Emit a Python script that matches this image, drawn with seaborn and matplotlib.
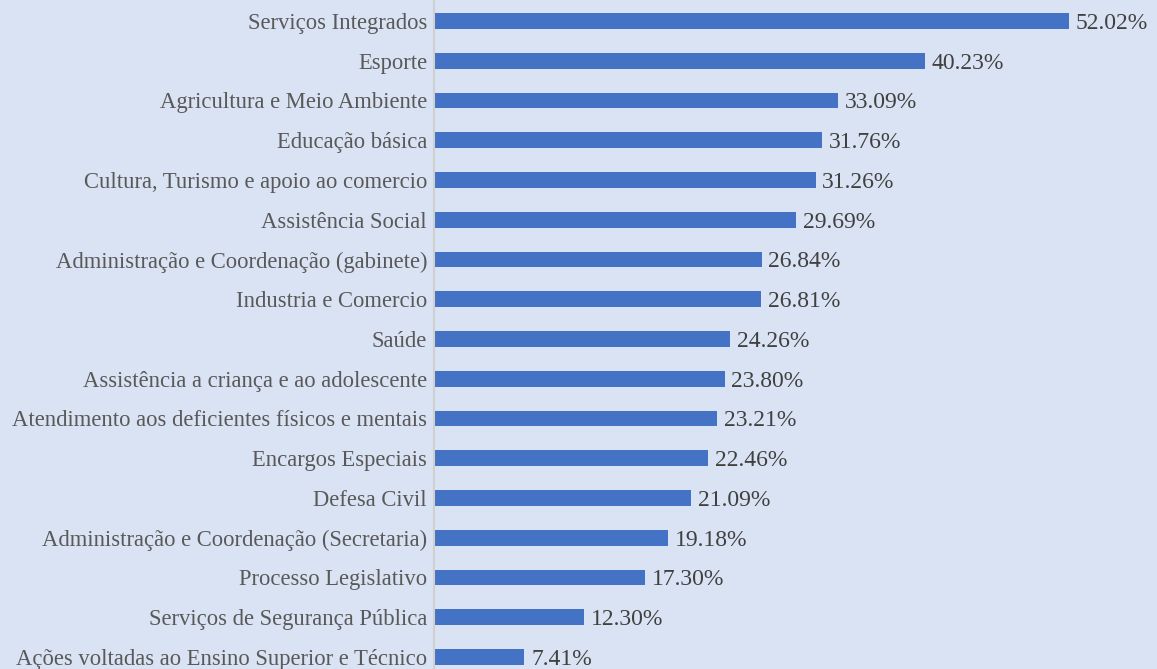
import matplotlib
matplotlib.use("Agg")
import matplotlib.pyplot as plt
import seaborn as sns
import pandas as pd

categories = [
    "Serviços Integrados",
    "Esporte",
    "Agricultura e Meio Ambiente",
    "Educação básica",
    "Cultura, Turismo e apoio ao comercio",
    "Assistência Social",
    "Administração e Coordenação (gabinete)",
    "Industria e Comercio",
    "Saúde",
    "Assistência a criança e ao adolescente",
    "Atendimento aos deficientes físicos e mentais",
    "Encargos Especiais",
    "Defesa Civil",
    "Administração e Coordenação (Secretaria)",
    "Processo Legislativo",
    "Serviços de Segurança Pública",
    "Ações voltadas ao Ensino Superior e Técnico",
]
values = [52.02, 40.23, 33.09, 31.76, 31.26, 29.69, 26.84, 26.81, 24.26,
          23.80, 23.21, 22.46, 21.09, 19.18, 17.30, 12.30, 7.41]

bg = "#DAE3F3"
bar_color = "#4472C4"

sns.set_theme(style="white")
plt.rcParams["font.family"] = ["Liberation Serif", "DejaVu Serif"]

df = pd.DataFrame({"categoria": categories, "valor": values})

W, H = 1157, 669
fig = plt.figure(figsize=(W / 100, H / 100), dpi=100)
fig.patch.set_facecolor(bg)
left_px, right_px = 434, 1150
ax = fig.add_axes([left_px / W, 0, (right_px - left_px) / W, 1])
ax.set_facecolor(bg)

sns.barplot(data=df, x="valor", y="categoria", orient="h", color=bar_color,
            saturation=1, width=0.4, linewidth=0, ax=ax)

px_per_unit = 635 / 52.02
ax.set_xlim(0, (right_px - left_px) / px_per_unit)
row = 39.75
ax.set_ylim(16 + (H - 657) / row, -21 / row)

for i, v in enumerate(values):
    ax.text(v + 0.55, i, f"{v:.2f}%", va="center_baseline", ha="left",
            fontsize=17, color="#404040")

ax.set_xlabel("")
ax.set_ylabel("")
ax.set_xticks([])
ax.tick_params(axis="y", length=0, pad=5, labelsize=16.3, labelcolor="#595959")
for lbl in ax.get_yticklabels():
    lbl.set_verticalalignment("center_baseline")
for s in ["top", "right", "bottom"]:
    ax.spines[s].set_visible(False)
ax.spines["left"].set_color("#D0D0D0")
ax.spines["left"].set_linewidth(1.5)

fig.savefig("out.png", dpi=100, facecolor=bg)
